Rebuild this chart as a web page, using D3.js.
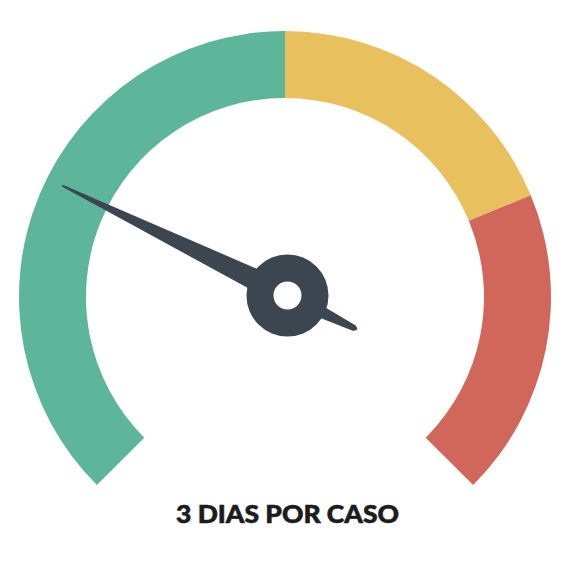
<!DOCTYPE html>
<html>
<head>
<meta charset="utf-8">
<script src="https://cdn.jsdelivr.net/npm/d3@7"></script>
<style>
  html, body { margin: 0; padding: 0; background: #fff; }
  svg { display: block; }
</style>
</head>
<body>
<svg id="gauge"></svg>
<script>
// gauge data
const bandStops = [0, 50, 75, 100];
const bandColors = ["#5eb69a", "#e8c05d", "#d1675a"];
const needleValue = 26.3;
const caption = "3 DIAS POR CASO";

// SVG setup
const width = 569;
const height = 574;
const cx = 285;
const cy = 297;
const outerR = 266;
const innerR = 199;
const hubX = 287.5;
const hubY = 295.5;
const needleColor = "#3b4650";

const svg = d3.select("#gauge")
    .attr("width", width)
    .attr("height", height);

const toRad = d => d * Math.PI / 180;
const angle = d3.scaleLinear().domain([0, 100]).range([toRad(-135), toRad(135)]);

const g = svg.append("g").attr("transform", `translate(${cx},${cy})`);

// coloured bands
const arc = d3.arc().innerRadius(innerR).outerRadius(outerR);
const bands = bandColors.map((c, i) => ({ from: bandStops[i], to: bandStops[i + 1], color: c }));

g.selectAll(".band")
    .data(bands)
    .enter().append("path")
    .attr("class", "band")
    .attr("d", d => arc({ startAngle: angle(d.from), endAngle: angle(d.to) }))
    .attr("fill", d => d.color);

// needle (drawn pointing up, then rotated)
const needleLen = 252;
const tailLen = 80;
const hub = svg.append("g").attr("transform", `translate(${hubX},${hubY})`);
const needle = hub.append("g")
    .attr("transform", `rotate(${angle(needleValue) * 180 / Math.PI})`);

needle.append("path")
    .attr("d", `M-11,-30 L-1,${-needleLen + 2} Q0,${-needleLen} 1,${-needleLen + 2} L11,-30 Z`)
    .attr("fill", needleColor);

needle.append("path")
    .attr("d", `M-6.5,30 L-3,${tailLen - 6} Q0,${tailLen + 1} 3,${tailLen - 6} L6.5,30 Z`)
    .attr("fill", needleColor);

// hub ring
hub.append("path")
    .attr("d", d3.arc().innerRadius(14).outerRadius(41)({ startAngle: 0, endAngle: 2 * Math.PI }))
    .attr("fill", needleColor);

// caption
svg.append("text")
    .attr("x", 287.5)
    .attr("y", 523)
    .attr("text-anchor", "middle")
    .attr("font-family", "Lato, 'Open Sans', sans-serif")
    .attr("font-weight", 900)
    .attr("font-size", 25)
    .attr("fill", "#1c1c1c")
    .attr("stroke", "#1c1c1c")
    .attr("stroke-width", 0.6)
    .attr("textLength", 223)
    .attr("lengthAdjust", "spacingAndGlyphs")
    .text(caption);
</script>
</body>
</html>
